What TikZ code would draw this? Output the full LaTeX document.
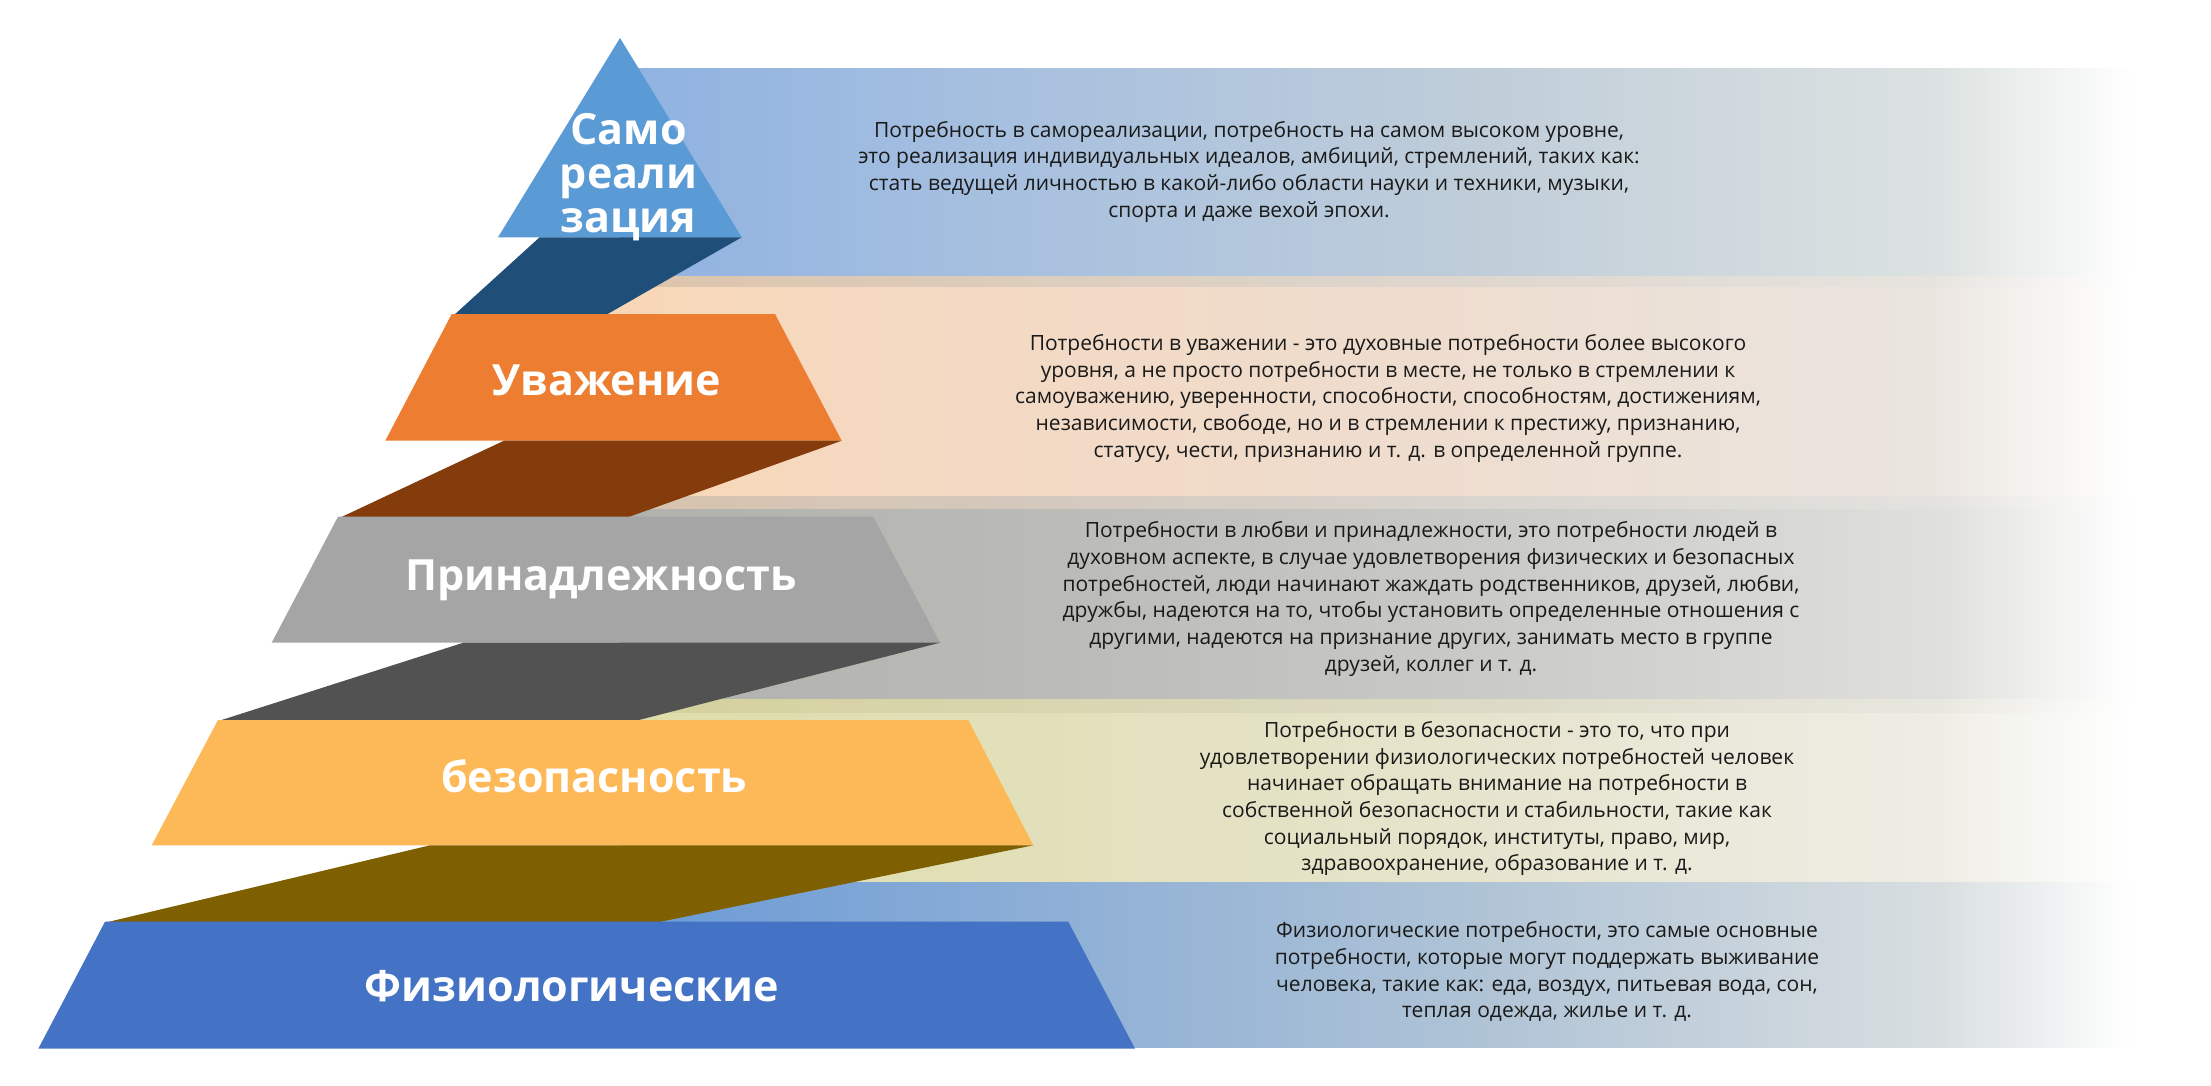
\documentclass[tikz,border=0pt]{standalone}
\usepackage{fontspec}
\setmainfont{Open Sans}
\definecolor{cTri}{HTML}{5B9BD5}
\definecolor{cTriS}{HTML}{1F4E79}
\definecolor{cOra}{HTML}{ED7D31}
\definecolor{cOraS}{HTML}{843C0C}
\definecolor{cGry}{HTML}{A5A5A5}
\definecolor{cGryS}{HTML}{525252}
\definecolor{cYel}{HTML}{FDB957}
\definecolor{cYelS}{HTML}{7F6000}
\definecolor{cBlu}{HTML}{4472C4}
\definecolor{txt}{HTML}{1A1A1A}
% band colours
\definecolor{b1a}{HTML}{8FB2E1}\definecolor{b1b}{HTML}{A7C0DF}\definecolor{b1c}{HTML}{BFCDD9}\definecolor{b1d}{HTML}{DCE2E1}
\definecolor{b2a}{HTML}{F9D7B5}\definecolor{b2b}{HTML}{F3D9C3}\definecolor{b2c}{HTML}{EEDDCF}\definecolor{b2d}{HTML}{EAE5DF}
\definecolor{b3a}{HTML}{B1B2AD}\definecolor{b3b}{HTML}{B9BAB5}\definecolor{b3c}{HTML}{C9CAC5}\definecolor{b3d}{HTML}{DFE0DC}
\definecolor{b4a}{HTML}{DFDDA8}\definecolor{b4b}{HTML}{E2E0B9}\definecolor{b4c}{HTML}{E6E4CD}\definecolor{b4d}{HTML}{EEEDE5}
\definecolor{b5a}{HTML}{6A9AD6}\definecolor{b5b}{HTML}{8AADD6}\definecolor{b5c}{HTML}{AFC3D6}\definecolor{b5d}{HTML}{D8DEE0}
\definecolor{s2a}{HTML}{DDC3A8}\definecolor{s2b}{HTML}{DCCBBA}\definecolor{s2c}{HTML}{DED6CE}\definecolor{s2d}{HTML}{E6E3DE}
\definecolor{s3a}{HTML}{D7C3AE}\definecolor{s3b}{HTML}{D4C8BC}\definecolor{s3c}{HTML}{D8D4CE}\definecolor{s3d}{HTML}{E3E2DE}
\definecolor{s4a}{HTML}{D5D19B}\definecolor{s4b}{HTML}{D8D5AE}\definecolor{s4c}{HTML}{DCDAC5}\definecolor{s4d}{HTML}{E8E7DF}
\newcommand\declband[5]{\pgfdeclarehorizontalshading{#1}{100bp}{color(0bp)=(#2); color(25bp)=(#2); color(37.5bp)=(#3); color(52.5bp)=(#4); color(67.5bp)=(#5); color(73.8bp)=(white); color(100bp)=(white)}}
\declband{bandone}{b1a}{b1b}{b1c}{b1d}
\declband{bandtwo}{b2a}{b2b}{b2c}{b2d}
\declband{bandthree}{b3a}{b3b}{b3c}{b3d}
\declband{bandfour}{b4a}{b4b}{b4c}{b4d}
\declband{bandfive}{b5a}{b5b}{b5c}{b5d}
\declband{stripetwo}{s2a}{s2b}{s2c}{s2d}
\declband{stripethree}{s3a}{s3b}{s3c}{s3d}
\declband{stripefour}{s4a}{s4b}{s4c}{s4d}
\begin{document}
\begin{tikzpicture}[x=1pt,y=-1pt,
  lbl/.style={text=white,font=\fontsize{43}{43.85}\selectfont\bfseries,inner sep=0pt,align=center},
  desc/.style={text=txt,font=\fontsize{21}{26.7}\selectfont,align=center,inner sep=0pt}]
\useasboundingbox (0,0) rectangle (2211,1086);
\fill[white] (0,0) rectangle (2211,1086);
% background bands
\shade[shading=bandone] (620,69) rectangle (2170,276.7);
\shade[shading=bandtwo] (560,276.7) rectangle (2170,496.7);
\shade[shading=bandthree] (620,496.7) rectangle (2170,699.3);
\shade[shading=bandfour] (620,699.3) rectangle (2170,882.7);
\shade[shading=bandfive] (620,882.7) rectangle (2170,1047);
\shade[shading=stripetwo] (560,276.7) rectangle (2170,286);
\shade[shading=stripethree] (620,496.7) rectangle (2170,508);
\shade[shading=stripefour] (620,699.3) rectangle (2170,712);
% pyramid
\fill[cTri] (620,38) -- (741.7,237.3) -- (498,237.3) -- cycle;
\fill[cTriS] (539.6,237.3) -- (741.7,237.3) -- (606.7,314.5) -- (454.6,314.5) -- cycle;
\fill[cOra] (451.7,314) -- (775,314) -- (841.7,440.7) -- (385.3,440.7) -- cycle;
\fill[cOraS] (504,440.7) -- (841.7,440.7) -- (628,517.2) -- (341,517.2) -- cycle;
\fill[cGry] (338,516.7) -- (873.3,516.7) -- (940,642.7) -- (271.7,642.7) -- cycle;
\fill[cGryS] (463.3,642.7) -- (940,642.7) -- (637,720.5) -- (220,720.5) -- cycle;
\fill[cYel] (218,720) -- (968.3,720) -- (1033.3,845.3) -- (151.7,845.3) -- cycle;
\fill[cYelS] (430,845.3) -- (1033.3,845.3) -- (658.3,922.2) -- (107,922.2) -- cycle;
\fill[cBlu] (105,921.7) -- (1068.3,921.7) -- (1135,1048.7) -- (38.3,1048.7) -- cycle;
% labels
\node[lbl] (l1) at (628.5,177) {Само\\реали\\зация};
\node[lbl,anchor=base] (l2) at (606.7,395) {Уважение};
\node[lbl,anchor=base] (l3) at (600.8,590.7) {Принадлежность};
\node[lbl,anchor=base] (l4) at (594.2,792.7) {безопасность};
\node[lbl,anchor=base] (l5) at (571.7,1001) {Физиологические};
% descriptions
\node[desc] (d1) at (1249,171.7) {Потребность в самореализации, потребность на самом высоком уровне,\\это реализация индивидуальных идеалов, амбиций, стремлений, таких как:\\стать ведущей личностью в какой-либо области науки и техники, музыки,\\спорта и даже вехой эпохи.};
\node[desc] (d2) at (1388,398.3) {Потребности в уважении - это духовные потребности более высокого\\уровня, а не просто потребности в месте, не только в стремлении к\\самоуважению, уверенности, способности, способностям, достижениям,\\независимости, свободе, но и в стремлении к престижу, признанию,\\статусу, чести, признанию и т. д. в определенной группе.};
\node[desc] (d3) at (1431,599) {Потребности в любви и принадлежности, это потребности людей в\\духовном аспекте, в случае удовлетворения физических и безопасных\\потребностей, люди начинают жаждать родственников, друзей, любви,\\дружбы, надеются на то, чтобы установить определенные отношения с\\другими, надеются на признание других, занимать место в группе\\друзей, коллег и т. д.};
\node[desc] (d4) at (1497,798.6) {Потребности в безопасности - это то, что при\\удовлетворении физиологических потребностей человек\\начинает обращать внимание на потребности в\\собственной безопасности и стабильности, такие как\\социальный порядок, институты, право, мир,\\здравоохранение, образование и т. д.};
\node[desc] (d5) at (1547,971.8) {Физиологические потребности, это самые основные\\потребности, которые могут поддержать выживание\\человека, такие как: еда, воздух, питьевая вода, сон,\\теплая одежда, жилье и т. д.};
\end{tikzpicture}
\end{document}
